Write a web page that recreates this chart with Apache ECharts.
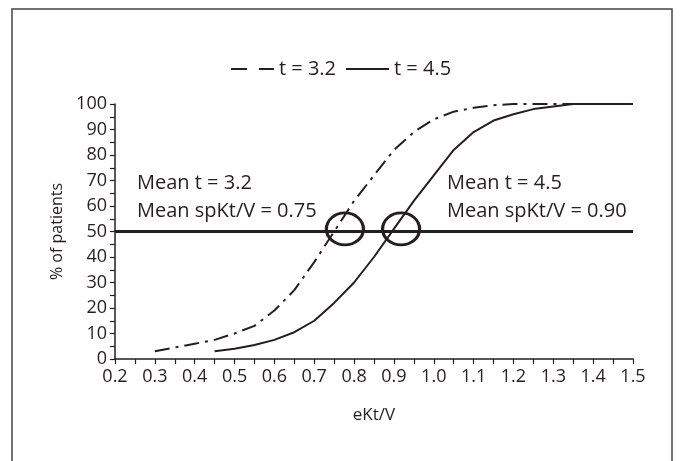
<!DOCTYPE html>
<html>
<head>
<meta charset="utf-8">
<script src="https://cdn.jsdelivr.net/npm/echarts@6/dist/echarts.min.js"></script>
<style>
html,body{margin:0;padding:0;background:#fff;}
#c{width:682px;height:461px;}
</style>
</head>
<body>
<div id="c"></div>
<script>
// Data
var xTicks = [0.2,0.3,0.4,0.5,0.6,0.7,0.8,0.9,1.0,1.1,1.2,1.3,1.4,1.5];
var yTicks = [0,10,20,30,40,50,60,70,80,90,100];
var seriesNames = ['t = 3.2','t = 4.5'];
var t32x = [0.3,0.4,0.45,0.5,0.55,0.6,0.65,0.7,0.75,0.8,0.85,0.9,0.95,1.0,1.05,1.1,1.15,1.2,1.3,1.4,1.5];
var t32y = [3,6,7.5,10,13,19,27,38,50,62,72,82,89,94,97,98.5,99.5,100,100,100,100];
var t45x = [0.45,0.5,0.55,0.6,0.65,0.7,0.75,0.8,0.85,0.9,0.95,1.0,1.05,1.1,1.15,1.2,1.25,1.3,1.35,1.4,1.5];
var t45y = [3,4,5.5,7.5,10.5,15,22,30,40,51,62,72,82,89,93.5,96,98,99,100,100,100];
var refLevel = 50;
var circleX = [0.777,0.918];
var circleY = [51,51];
var annLeft = ['Mean t = 3.2','Mean spKt/V = 0.75'];
var annRight = ['Mean t = 4.5','Mean spKt/V = 0.90'];

var ink = '#231f20';
var font = 'Open Sans';

function pairs(xs, ys){ return xs.map(function(x,i){ return [x, ys[i]]; }); }

var dashIcon = 'path://M0,0 L16,0 L16,2 L0,2 Z M28,0 L43,0 L43,2 L28,2 Z';
var solidIcon = 'path://M0,0 L43,0 L43,2 L0,2 Z';

var chart = echarts.init(document.getElementById('c'), null, {renderer:'canvas'});
chart.setOption({
  animation:false,
  backgroundColor:'#fff',
  textStyle:{fontFamily:font, color:ink},
  grid:{left:115, right:49, top:104, bottom:102, containLabel:false},
  legend:{
    top:54, left:'center',
    itemWidth:43, itemHeight:2, itemGap:10,
    textStyle:{fontFamily:font, fontSize:20, color:ink},
    data:[
      {name:seriesNames[0], icon:dashIcon, itemStyle:{color:ink, borderWidth:0}},
      {name:seriesNames[1], icon:solidIcon, itemStyle:{color:ink, borderWidth:0}}
    ]
  },
  xAxis:{
    type:'value', min:xTicks[0], max:xTicks[xTicks.length-1], interval:0.1,
    name:'eKt/V', nameLocation:'middle', nameGap:48,
    nameTextStyle:{fontFamily:font, fontSize:17, color:ink},
    axisLine:{lineStyle:{color:ink, width:1.5}},
    axisTick:{show:true, length:5, lineStyle:{color:ink, width:1.2}},
    minorTick:{show:true, splitNumber:2, length:5, lineStyle:{color:ink, width:1.2}},
    axisLabel:{fontFamily:font, fontSize:18, color:ink, margin:9,
      formatter:function(v){ return v.toFixed(1); }},
    splitLine:{show:false}
  },
  yAxis:{
    type:'value', min:yTicks[0], max:yTicks[yTicks.length-1], interval:10,
    name:'% of patients', nameLocation:'middle', nameGap:50, nameRotate:90,
    nameTextStyle:{fontFamily:font, fontSize:16, color:ink},
    axisLine:{show:true, lineStyle:{color:ink, width:1.5}},
    axisTick:{show:true, length:5, lineStyle:{color:ink, width:1.2}},
    minorTick:{show:true, splitNumber:2, length:5, lineStyle:{color:ink, width:1.2}},
    axisLabel:{fontFamily:font, fontSize:18, color:ink, margin:8},
    splitLine:{show:false}
  },
  series:[
    {name:seriesNames[0], type:'line', data:pairs(t32x,t32y), showSymbol:false, symbol:'none',
     lineStyle:{color:ink, width:2, type:[15,6,3,6]}, itemStyle:{color:ink}, z:3},
    {name:seriesNames[1], type:'line', data:pairs(t45x,t45y), showSymbol:false, symbol:'none',
     lineStyle:{color:ink, width:2, type:'solid'}, itemStyle:{color:ink}, z:3,
     markLine:{silent:true, symbol:'none', label:{show:false},
       lineStyle:{color:ink, width:3, type:'solid'}, data:[{yAxis:refLevel}]}},
    {name:'circles', type:'scatter', data:pairs(circleX,circleY), symbol:'circle', symbolSize:[37,32],
     itemStyle:{color:'rgba(0,0,0,0)', borderColor:ink, borderWidth:3, opacity:1}, z:5, silent:true}
  ],
  graphic:[
    {type:'rect', shape:{x:12, y:9, width:660, height:480}, style:{fill:'none', stroke:'#444', lineWidth:1.5}, silent:true},
    {type:'text', left:137, top:173, style:{text:annLeft[0], font:'20px "'+font+'"', fill:ink}},
    {type:'text', left:137, top:201, style:{text:annLeft[1], font:'20px "'+font+'"', fill:ink}},
    {type:'text', left:447, top:173, style:{text:annRight[0], font:'20px "'+font+'"', fill:ink}},
    {type:'text', left:447, top:201, style:{text:annRight[1], font:'20px "'+font+'"', fill:ink}}
  ]
});
</script>
</body>
</html>
